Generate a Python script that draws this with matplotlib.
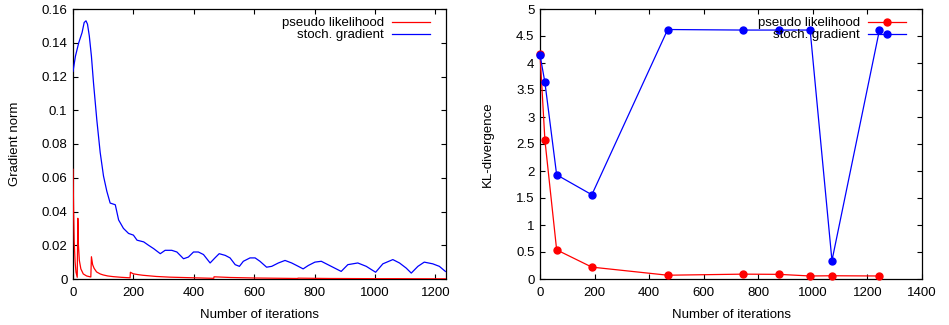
import matplotlib
matplotlib.use("Agg")
import matplotlib.pyplot as plt

plt.rcParams['font.family'] = ['Liberation Sans', 'DejaVu Sans']
plt.rcParams['font.size'] = 9.5

# gradient norm, stochastic gradient
sg_iters = [0, 8, 19, 30, 37, 43, 48, 54, 61, 68, 79, 90, 101, 112, 123, 140, 151,
            167, 184, 200, 212, 234, 250, 267, 289, 305, 327, 344, 366, 382, 399,
            415, 432, 454, 470, 484, 504, 520, 537, 551, 564, 586, 603, 619, 641,
            658, 680, 702, 724, 746, 762, 779, 801, 822, 844, 866, 888, 910, 943,
            971, 1002, 1026, 1059, 1081, 1103, 1120, 1142, 1163, 1191, 1213, 1233]
sg_norm = [0.123, 0.132, 0.140, 0.146, 0.152, 0.153, 0.151, 0.144, 0.132, 0.116,
           0.094, 0.075, 0.061, 0.052, 0.045, 0.044, 0.035, 0.030, 0.027, 0.026,
           0.023, 0.022, 0.020, 0.018, 0.015, 0.017, 0.017, 0.016, 0.012, 0.013,
           0.016, 0.016, 0.0145, 0.0095, 0.0125, 0.015, 0.014, 0.0125, 0.0085,
           0.0075, 0.0105, 0.0125, 0.0125, 0.0105, 0.007, 0.0075, 0.0095, 0.011,
           0.0095, 0.0075, 0.006, 0.008, 0.010, 0.0105, 0.0085, 0.0065, 0.0045,
           0.0085, 0.0095, 0.0075, 0.004, 0.009, 0.0115, 0.0095, 0.0065, 0.0035,
           0.0075, 0.010, 0.009, 0.0075, 0.0045]

# gradient norm, pseudo likelihood
pl_iters = [0, 2, 4, 7, 10, 14, 16, 18, 21, 26, 34, 45, 59, 61, 65, 70, 78, 90,
            100, 115, 133, 160, 189, 190, 199, 215, 232, 276, 320, 380, 466, 467,
            520, 600, 744, 745, 850, 1000, 1070, 1233]
pl_norm = [0.065, 0.040, 0.022, 0.010, 0.004, 0.001, 0.036, 0.020, 0.011, 0.006,
           0.003, 0.0018, 0.0012, 0.0132, 0.0085, 0.0063, 0.0042, 0.0030, 0.0024,
           0.0018, 0.0014, 0.0010, 0.0007, 0.0040, 0.0031, 0.0026, 0.0022, 0.0015,
           0.0011, 0.0008, 0.0004, 0.0013, 0.0009, 0.0006, 0.0003, 0.0005, 0.0003,
           0.0002, 0.0002, 0.0001]

# KL-divergence at evaluation points
kl_iters = [0, 18, 61, 190, 468, 745, 876, 990, 1070, 1244]
kl_pl = [4.17, 2.57, 0.54, 0.22, 0.07, 0.09, 0.086, 0.056, 0.06, 0.056]
kl_sg = [4.15, 3.64, 1.93, 1.56, 4.62, 4.61, 4.61, 4.61, 0.34, 4.61]

grad_yticks = [0, 0.02, 0.04, 0.06, 0.08, 0.1, 0.12, 0.14, 0.16]
grad_xticks = [0, 200, 400, 600, 800, 1000, 1200]
kl_yticks = [0, 0.5, 1, 1.5, 2, 2.5, 3, 3.5, 4, 4.5, 5]
kl_xticks = [0, 200, 400, 600, 800, 1000, 1200, 1400]

RED = '#ff0000'
BLUE = '#0000ff'


def style_axes(ax, xticks, yticks):
    ax.set_xticks(xticks)
    ax.set_yticks(yticks)
    ax.set_xticklabels(['%g' % t for t in xticks])
    ax.set_yticklabels(['%g' % t for t in yticks])
    ax.tick_params(direction='in', top=True, right=True, length=3.5, width=0.8,
                   labelsize=9.5)
    ax.tick_params(axis='x', pad=6)
    ax.tick_params(axis='y', pad=4)
    for s in ax.spines.values():
        s.set_linewidth(0.9)


def add_legend(ax, width_px):
    ax.legend(loc='upper right', bbox_to_anchor=(1 - 16 / width_px, 1 - 8 / 270),
              frameon=False, markerfirst=False, borderpad=0, borderaxespad=0,
              handlelength=2.9, handletextpad=0.6, labelspacing=0.0, fontsize=9.5)


fig = plt.figure(figsize=(9.49, 3.25), dpi=100)

ax1 = fig.add_axes([73 / 949, 1 - 279 / 325, (446 - 73) / 949, (279 - 9) / 325])
ax1.plot(pl_iters, pl_norm, color=RED, lw=0.9, zorder=3, label='pseudo likelihood')
ax1.plot(sg_iters, sg_norm, color=BLUE, lw=0.9, zorder=3, label='stoch. gradient')
ax1.set_xlim(0, 1235)
ax1.set_ylim(0, 0.16)
style_axes(ax1, grad_xticks, grad_yticks)
ax1.set_xlabel('Number of iterations', labelpad=7)
ax1.set_ylabel('Gradient norm', labelpad=15)
add_legend(ax1, 373)

ax2 = fig.add_axes([540 / 949, 1 - 279 / 325, (922 - 540) / 949, (279 - 9) / 325])
ax2.plot(kl_iters, kl_pl, color=RED, lw=0.9, marker='o', ms=5, clip_on=False,
         zorder=3, label='pseudo likelihood')
ax2.plot(kl_iters, kl_sg, color=BLUE, lw=0.9, marker='o', ms=5, clip_on=False,
         zorder=3, label='stoch. gradient')
ax2.set_xlim(0, 1400)
ax2.set_ylim(0, 5)
style_axes(ax2, kl_xticks, kl_yticks)
ax2.set_xlabel('Number of iterations', labelpad=7)
ax2.set_ylabel('KL-divergence', labelpad=16)
add_legend(ax2, 382)

fig.savefig('out.png', dpi=100)
